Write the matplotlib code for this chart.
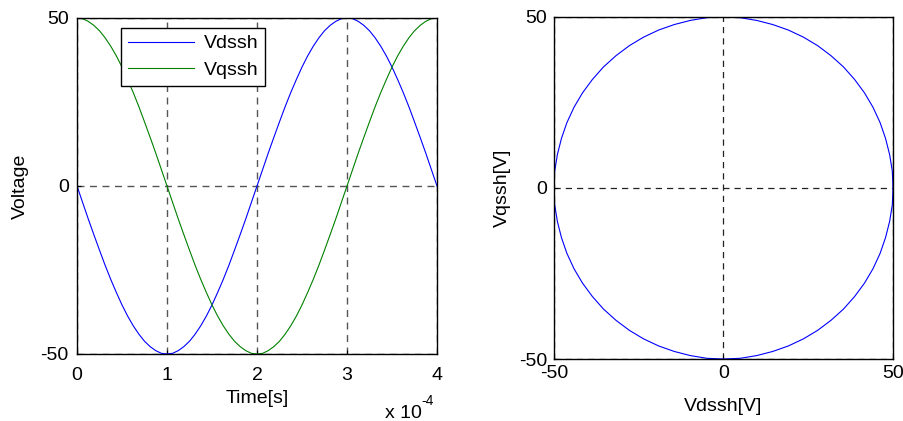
import numpy as np
import matplotlib
matplotlib.use("Agg")
import matplotlib.pyplot as plt

# time samples in units of 1e-4 s
time_e4 = [0.0, 0.0625, 0.125, 0.1875, 0.25, 0.3125, 0.375, 0.4375,
           0.5, 0.5625, 0.625, 0.6875, 0.75, 0.8125, 0.875, 0.9375,
           1.0, 1.0625, 1.125, 1.1875, 1.25, 1.3125, 1.375, 1.4375,
           1.5, 1.5625, 1.625, 1.6875, 1.75, 1.8125, 1.875, 1.9375,
           2.0, 2.0625, 2.125, 2.1875, 2.25, 2.3125, 2.375, 2.4375,
           2.5, 2.5625, 2.625, 2.6875, 2.75, 2.8125, 2.875, 2.9375,
           3.0, 3.0625, 3.125, 3.1875, 3.25, 3.3125, 3.375, 3.4375,
           3.5, 3.5625, 3.625, 3.6875, 3.75, 3.8125, 3.875, 3.9375, 4.0]

vdssh = [0.0, -4.9, -9.8, -14.5, -19.1, -23.6, -27.8, -31.7,
         -35.4, -38.7, -41.6, -44.1, -46.2, -47.8, -49.0, -49.8,
         -50.0, -49.8, -49.0, -47.8, -46.2, -44.1, -41.6, -38.7,
         -35.4, -31.7, -27.8, -23.6, -19.1, -14.5, -9.8, -4.9,
         0.0, 4.9, 9.8, 14.5, 19.1, 23.6, 27.8, 31.7,
         35.4, 38.7, 41.6, 44.1, 46.2, 47.8, 49.0, 49.8,
         50.0, 49.8, 49.0, 47.8, 46.2, 44.1, 41.6, 38.7,
         35.4, 31.7, 27.8, 23.6, 19.1, 14.5, 9.8, 4.9, 0.0]

vqssh = [50.0, 49.8, 49.0, 47.8, 46.2, 44.1, 41.6, 38.7,
         35.4, 31.7, 27.8, 23.6, 19.1, 14.5, 9.8, 4.9,
         0.0, -4.9, -9.8, -14.5, -19.1, -23.6, -27.8, -31.7,
         -35.4, -38.7, -41.6, -44.1, -46.2, -47.8, -49.0, -49.8,
         -50.0, -49.8, -49.0, -47.8, -46.2, -44.1, -41.6, -38.7,
         -35.4, -31.7, -27.8, -23.6, -19.1, -14.5, -9.8, -4.9,
         0.0, 4.9, 9.8, 14.5, 19.1, 23.6, 27.8, 31.7,
         35.4, 38.7, 41.6, 44.1, 46.2, 47.8, 49.0, 49.8, 50.0]

x_ticks_left = [0, 1, 2, 3, 4]
v_ticks = [-50, 0, 50]

plt.rcParams["font.family"] = ["Liberation Sans", "DejaVu Sans"]
plt.rcParams["font.size"] = 14
plt.rcParams["axes.unicode_minus"] = False

fig = plt.figure(figsize=(9.04, 4.21), dpi=100)
W, H = 904, 421

def box(l, t, r, b):
    return [l / W, 1 - b / H, (r - l) / W, (b - t) / H]

# left: time signals
ax1 = fig.add_axes(box(77, 18, 437, 354))
ax1.plot(time_e4, vdssh, color="#0000ff", lw=0.8, label="Vdssh")
ax1.plot(time_e4, vqssh, color="#008000", lw=0.8, label="Vqssh")
ax1.set_xlim(0, 4)
ax1.set_ylim(-50, 50)
ax1.set_xticks(x_ticks_left)
ax1.set_yticks(v_ticks)
ax1.grid(True, ls=(0, (5, 4)), color="#555555", lw=1.0)
ax1.set_xlabel("Time[s]", labelpad=5)
ax1.set_ylabel("Voltage", labelpad=8)
ax1.tick_params(direction="in", length=3)
ax1.tick_params(axis="y", pad=6)
ax1.tick_params(axis="x", pad=9)
leg = ax1.legend(loc="upper left", bbox_to_anchor=(0.122, 0.97), borderaxespad=0,
                 handlelength=3.4, fancybox=False, edgecolor="black",
                 framealpha=1, fontsize=14, borderpad=0.35, labelspacing=0.45,
                 handletextpad=0.5)
leg.get_frame().set_linewidth(1.0)
fig.text(385 / W, 1 - 418 / H, "x 10", fontsize=14, va="baseline")
fig.text(421 / W, 1 - 405 / H, "-4", fontsize=10, va="baseline")

# right: dq trajectory
ax2 = fig.add_axes(box(554, 17, 893, 359))
ax2.plot(vdssh, vqssh, color="#0000ff", lw=0.8)
ax2.set_xlim(-50, 50)
ax2.set_ylim(-50, 50)
ax2.set_xticks(v_ticks)
ax2.set_yticks(v_ticks)
ax2.grid(True, ls=(0, (5, 4)), color="#222222", lw=0.9)
ax2.set_xlabel("Vdssh[V]", labelpad=12)
ax2.set_ylabel("Vqssh[V]", labelpad=6)
ax2.tick_params(direction="in", length=3)
ax2.tick_params(axis="y", pad=5)
ax2.tick_params(axis="x", pad=4)

for ax in (ax1, ax2):
    for s in ax.spines.values():
        s.set_linewidth(1.0)

fig.savefig("out.png", dpi=100)
